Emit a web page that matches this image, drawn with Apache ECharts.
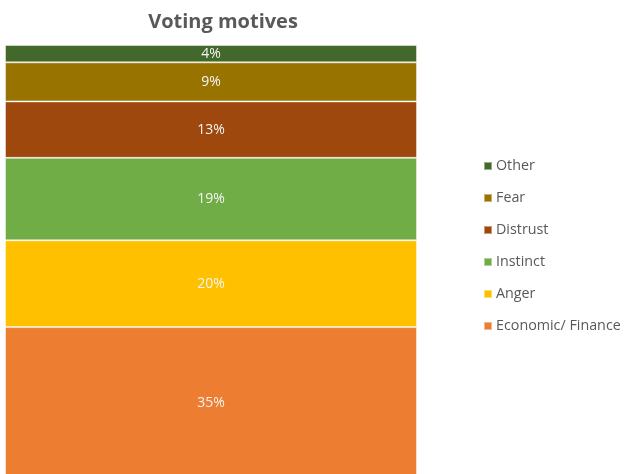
<!DOCTYPE html>
<html><head><meta charset="utf-8">
<script src="https://cdn.jsdelivr.net/npm/echarts@6/dist/echarts.min.js"></script>
<style>html,body{margin:0;padding:0;background:#fff}#c{width:624px;height:474px}</style>
</head><body><div id="c"></div>
<script>
const categories = ['Voting motives'];
const seriesNames = ['Economic/ Finance', 'Anger', 'Instinct', 'Distrust', 'Fear', 'Other'];
const seriesValues = [35, 20, 19, 13, 9, 4];
const seriesColors = ['#ed7d31', '#ffc000', '#70ad47', '#9e480e', '#997300', '#43682b'];
const legendOrder = ['Other', 'Fear', 'Distrust', 'Instinct', 'Anger', 'Economic/ Finance'];

const chart = echarts.init(document.getElementById('c'));
chart.setOption({
  animation: false,
  title: {
    text: 'Voting motives', left: 218, top: 7, textAlign: 'center',
    textStyle: { fontFamily: 'Open Sans', fontSize: 20, fontWeight: 'bold', color: '#595959' }
  },
  legend: {
    orient: 'vertical', left: 478, top: 154, itemGap: 18,
    itemWidth: 8, itemHeight: 8, icon: 'rect',
    data: legendOrder,
    textStyle: { fontFamily: 'Open Sans', fontSize: 14.3, color: '#595959', padding: [0, 0, 0, -1] }
  },
  grid: { left: 5, width: 412, top: 45, height: 434, containLabel: false, outerBoundsMode: 'none' },
  xAxis: { type: 'category', data: categories, show: false },
  yAxis: { type: 'value', min: 0, max: 100, show: false },
  series: seriesNames.map((n, i) => ({
    name: n, type: 'bar', stack: 'a', barCategoryGap: '0%',
    data: [seriesValues[i]],
    itemStyle: { color: seriesColors[i], borderColor: 'rgba(255,255,255,0.45)', borderWidth: 1 },
    label: {
      show: true, position: 'inside', formatter: '{c}%',
      fontFamily: 'Open Sans', fontSize: 14, color: '#f4f4f4'
    }
  }))
});
</script></body></html>
